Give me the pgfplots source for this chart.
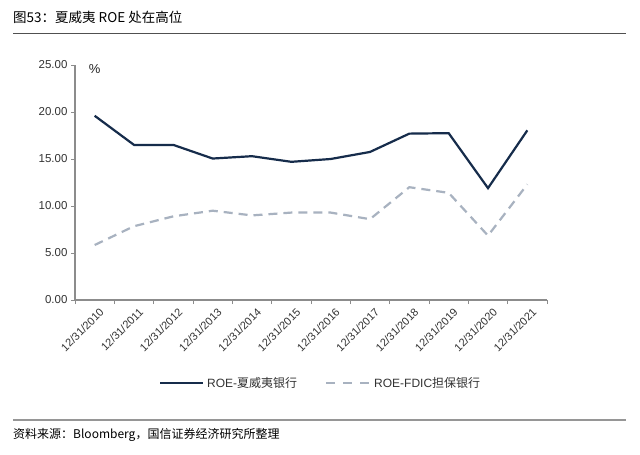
\documentclass[border=0pt]{standalone}
\usepackage{pgfplots}
\pgfplotsset{compat=1.18}
\usepackage{fontspec}
\setmainfont{Liberation Sans}
\newfontfamily\cjk{Noto Sans CJK SC}
\definecolor{navy}{RGB}{22,44,75}
\definecolor{dgray}{RGB}{168,178,192}
\definecolor{axgray}{RGB}{140,140,140}
\definecolor{rulegray}{RGB}{150,150,150}
\definecolor{titlerule}{RGB}{80,80,80}
\begin{document}
\begin{tikzpicture}
\path[fill=white] (0bp,0bp) rectangle (640bp,-455bp);
\begin{axis}[
  at={(75bp,-300bp)}, anchor=south west,
  scale only axis, width=472bp, height=235bp,
  xmin=-0.5, xmax=11.5, ymin=0, ymax=25,
  axis x line*=bottom, axis y line*=left,
  axis line style={axgray,line width=1.2bp},
  xtick={0,...,11},
  xticklabels={12/31/2010,12/31/2011,12/31/2012,12/31/2013,12/31/2014,12/31/2015,12/31/2016,12/31/2017,12/31/2018,12/31/2019,12/31/2020,12/31/2021},
  major x tick style={draw=none},
  minor xtick={-0.5,0.5,...,11.5},
  minor x tick style={axgray,line width=1bp},
  minor tick length=4bp,
  ytick={0,5,...,25},
  major y tick style={axgray,line width=1bp},
  major tick length=4bp,
  tick align=outside,
  y tick label style={/pgf/number format/fixed,/pgf/number format/fixed zerofill,/pgf/number format/precision=2},
  /pgf/number format/assume math mode=true,
  tick label style={font=\fontsize{11.5bp}{13bp}\selectfont, color=black!80},
  xticklabel style={rotate=45, anchor=north east, font=\fontsize{11bp}{13bp}\selectfont, xshift=4bp, yshift=-2bp},
  clip=false,
]
\addplot[navy, line width=2.2bp] coordinates {
(0,19.6) (1,16.5) (2,16.5) (3,15.05) (4,15.3) (5,14.7) (6,15.0) (7,15.75) (8,17.7) (9,17.75) (10,11.9) (11,18.05)};
\addplot[dgray, line width=2.2bp, dash pattern=on 9bp off 6bp] coordinates {
(0,5.85) (1,7.85) (2,8.9) (3,9.5) (4,9.0) (5,9.3) (6,9.3) (7,8.6) (8,12.0) (9,11.4) (10,6.85) (11,12.3)};
\node[anchor=center,font=\fontsize{13bp}{15bp}\selectfont, color=black!85] at (axis cs:0,24.6) {\%};
\end{axis}
% title
\node[anchor=west,inner sep=0pt] at (13bp,-17bp) {\cjk\fontsize{13.5bp}{15bp}\selectfont 图53：夏威夷 ROE 处在高位};
\node[anchor=west,inner sep=0pt] at (13bp,-33.5bp) {\color{titlerule}\rule[-0.65bp]{613bp}{1.3bp}};
% source
\draw[rulegray,line width=2.2bp] (13bp,-420bp) -- (320bp,-420bp);
\draw[rulegray,line width=2.2bp] (320bp,-420bp) -- (626bp,-420bp);
\node[anchor=west,inner sep=0pt] at (13bp,-435bp) {\cjk\fontsize{12bp}{14bp}\selectfont 资料来源：Bloomberg，国信证券经济研究所整理};
% legend
\draw[navy, line width=2.2bp] (160bp,-383bp) -- (203bp,-383bp);
\node[anchor=west,inner sep=0pt] at (207bp,-383bp) {\fontsize{12bp}{14bp}\selectfont\color{black!80}ROE-{\cjk 夏威夷银行}};
\draw[dgray, line width=2.2bp, dash pattern=on 9bp off 8bp] (326bp,-383bp) -- (371bp,-383bp);
\node[anchor=west,inner sep=0pt] at (374bp,-383bp) {\fontsize{12bp}{14bp}\selectfont\color{black!80}ROE-FDIC{\cjk 担保银行}};
\end{tikzpicture}
\end{document}
